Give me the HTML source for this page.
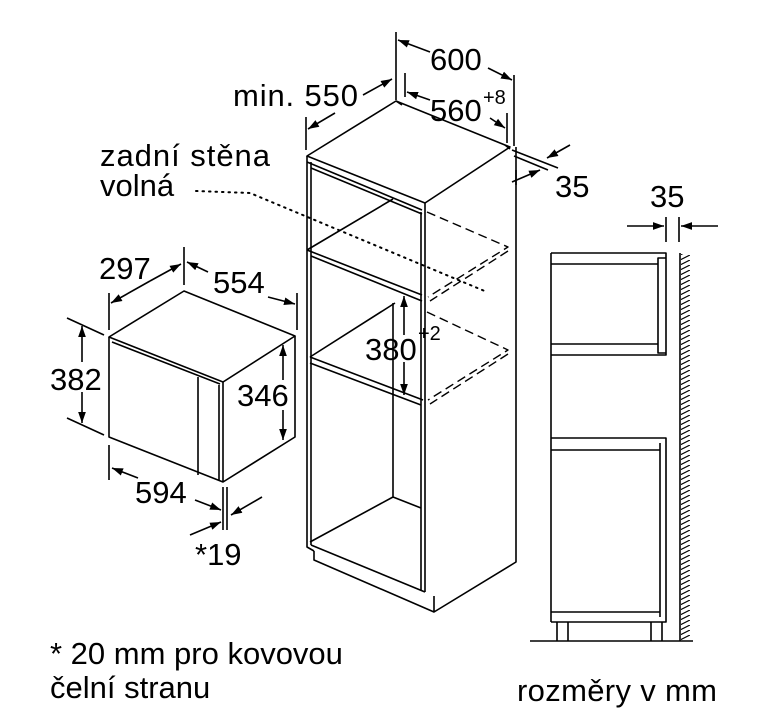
<!DOCTYPE html>
<html><head><meta charset="utf-8"><style>
html,body{margin:0;padding:0;background:#fff}
svg{display:block}
text{font-family:"Liberation Sans",sans-serif;fill:#000}
</style></head><body>
<svg width="782" height="728" viewBox="0 0 782 728" xmlns="http://www.w3.org/2000/svg">
<defs>
<marker id="a" viewBox="0 0 10 10" refX="10" refY="5" markerWidth="11" markerHeight="11" orient="auto-start-reverse" markerUnits="userSpaceOnUse"><path d="M0,1.5 L10,5 L0,8.5 z" fill="#000"/></marker>
<pattern id="h" width="10" height="5" patternUnits="userSpaceOnUse"><path d="M0,5 L10,0" stroke="#000" stroke-width="1.2"/></pattern>
</defs>
<g fill="none" stroke="#000" stroke-width="1.6" stroke-linejoin="round">
<path d="M307,156 L396,101 L510,147 L425,203 Z"/>
<path d="M396,101 l6,4 M505,145 l5,4"/>
<path d="M307,156 L307,547 L314,551"/>
<path d="M311,162 L311,545"/>
<path d="M307,162 L422,210 M311,168 L422,214"/>
<path d="M425,203 L425,592 M421,212 L421,590"/>
<path d="M516,147 L516,562 L434,612 L434,596 M314,551 L314,560 L434,612"/>
<path d="M311,545 L425,592"/>
<path d="M307,250 L422,295 M311,256 L422,301 M307,250 L393,199"/>
<path d="M310,357 L423,400 M310,363 L421,405 M310,357 L395,303"/>
<path d="M393,303 L393,497 L310,542 M393,497 L421,508"/>
<g stroke-dasharray="9,5" stroke-width="1.4">
<path d="M427,212 L508,247 L428,297 M508,251 L430,301"/>
<path d="M427,312 L508,350 L428,400 M508,354 L430,404"/>
</g>
<path d="M196,191 L250,193 L487,292" stroke-dasharray="1.5,5" stroke-width="2" stroke-linecap="round"/>
<path d="M396,32 L396,100 M514,75 L514,146 M405,73 L405,97 M507,113 L507,143 M306,117 L306,150"/>
<path d="M430,52 L398,40" marker-end="url(#a)"/>
<path d="M488,68 L512,80" marker-end="url(#a)"/>
<path d="M430,100 L407,92" marker-end="url(#a)"/>
<path d="M490,118 L505,128" marker-end="url(#a)"/>
<path d="M335,113 L308,129" marker-end="url(#a)"/>
<path d="M363,95 L392,79" marker-end="url(#a)"/>
<path d="M512,150 L558,168 M514,156 L548,170 M516,170 L516,185"/>
<path d="M570,145 L547,158" marker-end="url(#a)"/>
<path d="M512,182 L540,170" marker-end="url(#a)"/>
<path d="M404,335 L404,296" marker-end="url(#a)"/>
<path d="M404,362 L404,395" marker-end="url(#a)"/>
<path d="M109,337 L184,291 L295,336 L223,382 Z"/>
<path d="M109,337 L109,437 L223,482 L295,437 L295,336"/>
<path d="M223,382 L223,482 M219,385 L219,480 M112,342 L220,384"/>
<path d="M198,377 L198,475"/>
<path d="M109,293 L109,330 M184,247 L184,285 M297,293 L297,330"/>
<path d="M150,281 L111,303" marker-end="url(#a)"/>
<path d="M150,281 L181,264" marker-end="url(#a)"/>
<path d="M208,272 L187,262" marker-end="url(#a)"/>
<path d="M268,297 L295,304" marker-end="url(#a)"/>
<path d="M67,318 L104,335 M67,418 L104,435"/>
<path d="M82,362 L82,326" marker-end="url(#a)"/>
<path d="M82,392 L82,423" marker-end="url(#a)"/>
<path d="M283,380 L283,345" marker-end="url(#a)"/>
<path d="M283,410 L283,440" marker-end="url(#a)"/>
<path d="M109,445 L109,480 M223,487 L223,530 M227,487 L227,530"/>
<path d="M138,478 L112,468" marker-end="url(#a)"/>
<path d="M195,500 L221,510" marker-end="url(#a)"/>
<path d="M262,497 L231,515" marker-end="url(#a)"/>
<path d="M190,535 L221,522" marker-end="url(#a)"/>
<path d="M551,253 L666,253 L666,355 L551,355 M551,264 L658,264 M551,344 L658,344 M658,258 L666,258 L666,353 L658,353 Z"/>
<path d="M551,253 L551,622"/>
<path d="M551,438 L666,438 L666,622 L551,622 M551,450 L660,450 M551,612 L660,612 M660,443 L660,617"/>
<path d="M557,622 L557,641 M568,622 L568,641 M651,622 L651,641 M662,622 L662,641"/>
<path d="M530,641 L693,641"/>
<path d="M680,253 L680,641"/>
<path d="M666,217 L666,242 M679,217 L679,242"/>
<path d="M627,226 L664,226" marker-end="url(#a)"/>
<path d="M718,226 L681,226" marker-end="url(#a)"/>
</g>
<rect x="681" y="254" width="9" height="386" fill="url(#h)"/>
<g font-size="31">
<text x="430" y="70">600</text>
<text x="430" y="121">560</text><text x="483" y="104" font-size="20">+8</text>
<text x="233" y="106" textLength="125">min. 550</text>
<text x="555" y="197">35</text>
<text x="650" y="207">35</text>
<text x="100" y="166" textLength="170">zadní stěna</text>
<text x="100" y="196">volná</text>
<text x="99" y="279">297</text>
<text x="213" y="293">554</text>
<text x="50" y="390">382</text>
<text x="237" y="406">346</text>
<text x="365" y="360">380</text><text x="418" y="340" font-size="20">+2</text>
<text x="135" y="503">594</text>
<text x="195" y="565">*19</text>
<text x="50" y="664">* 20 mm pro kovovou</text>
<text x="50" y="698">čelní stranu</text>
<text x="517" y="701" textLength="200">rozměry v mm</text>
</g>
</svg>
</body></html>
